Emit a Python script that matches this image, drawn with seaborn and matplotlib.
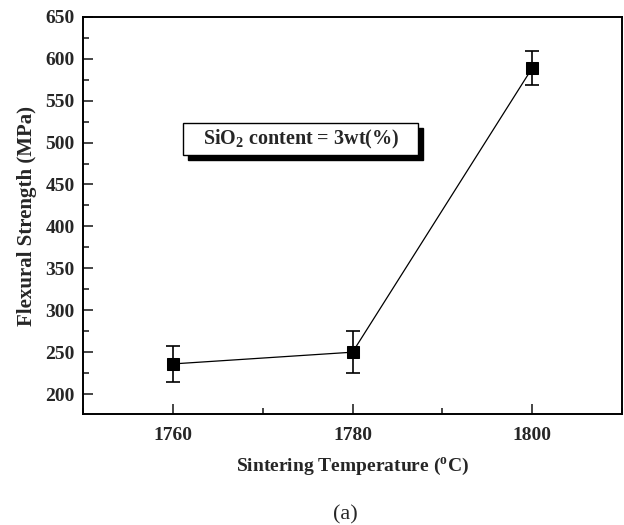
import pandas as pd
import matplotlib.pyplot as plt
from matplotlib.patches import Rectangle
from matplotlib.ticker import MultipleLocator
import seaborn as sns

# values
temps = [1760, 1780, 1800]
strength = [236, 250, 589]
err = [21, 25, 20]

df = pd.DataFrame({"temp": temps, "strength": strength, "err": err})

sns.set_style("ticks")
plt.rcParams['font.family'] = ['Liberation Serif', 'DejaVu Serif']
plt.rcParams['font.weight'] = 'bold'
plt.rcParams['mathtext.fontset'] = 'custom'
plt.rcParams['mathtext.rm'] = 'Liberation Serif:bold'
plt.rcParams['mathtext.bf'] = 'Liberation Serif:bold'
plt.rcParams['mathtext.it'] = 'Liberation Serif:bold'
plt.rcParams['mathtext.default'] = 'bf'

fig = plt.figure(figsize=(6.24, 5.25), dpi=100)
ax = fig.add_axes([0.133, 0.211, 0.864, 0.757])

# error bars first, then line + square markers
ax.errorbar(df["temp"], df["strength"], yerr=df["err"], fmt="none",
            ecolor="black", elinewidth=1.2, capsize=5, capthick=1.2, zorder=2)
sns.lineplot(x="temp", y="strength", data=df, ax=ax, color="black",
             linewidth=0.9, marker="s", markersize=8.5, markerfacecolor="black",
             markeredgecolor="black", zorder=3)

ax.set_xlim(1750, 1810)
ax.set_ylim(176, 650)
ax.xaxis.set_major_locator(MultipleLocator(20))
ax.xaxis.set_minor_locator(MultipleLocator(10))
ax.yaxis.set_major_locator(MultipleLocator(50))
ax.yaxis.set_minor_locator(MultipleLocator(25))
ax.tick_params(which="both", direction="in", top=False, right=False, width=1.2,
               labelsize=14)
ax.tick_params(which="major", length=7)
ax.tick_params(which="minor", length=4)
ax.tick_params(axis="x", pad=9)
ax.tick_params(axis="y", pad=6)
for lab in ax.get_xticklabels() + ax.get_yticklabels():
    lab.set_fontweight("bold")
for s in ax.spines.values():
    s.set_linewidth(1.4)
    s.set_color("black")

ax.set_xlabel("Sintering Temperature ($^{o}$C)", fontsize=14,
              fontweight="bold", labelpad=9)
ax.set_ylabel("Flexural Strength (MPa)", fontsize=15, fontweight="bold",
              labelpad=6)

# annotation box with drop shadow
bx, by, bw, bh = 0.186, 0.652, 0.436, 0.081
ax.add_patch(Rectangle((bx + 0.009, by - 0.013), bw, bh, transform=ax.transAxes,
                       facecolor="black", edgecolor="black", zorder=4))
ax.add_patch(Rectangle((bx, by), bw, bh, transform=ax.transAxes,
                       facecolor="white", edgecolor="black", linewidth=1.0,
                       zorder=5))
ax.text(bx + bw / 2, by + bh / 2, "SiO$_2$ content = 3wt(%)", fontsize=14.5,
        fontweight="bold", ha="center", va="center", transform=ax.transAxes,
        zorder=6)

fig.text(0.553, 0.010, "(a)", fontsize=16, fontweight="normal", ha="center")

fig.savefig("out.png", dpi=100, facecolor="white")
